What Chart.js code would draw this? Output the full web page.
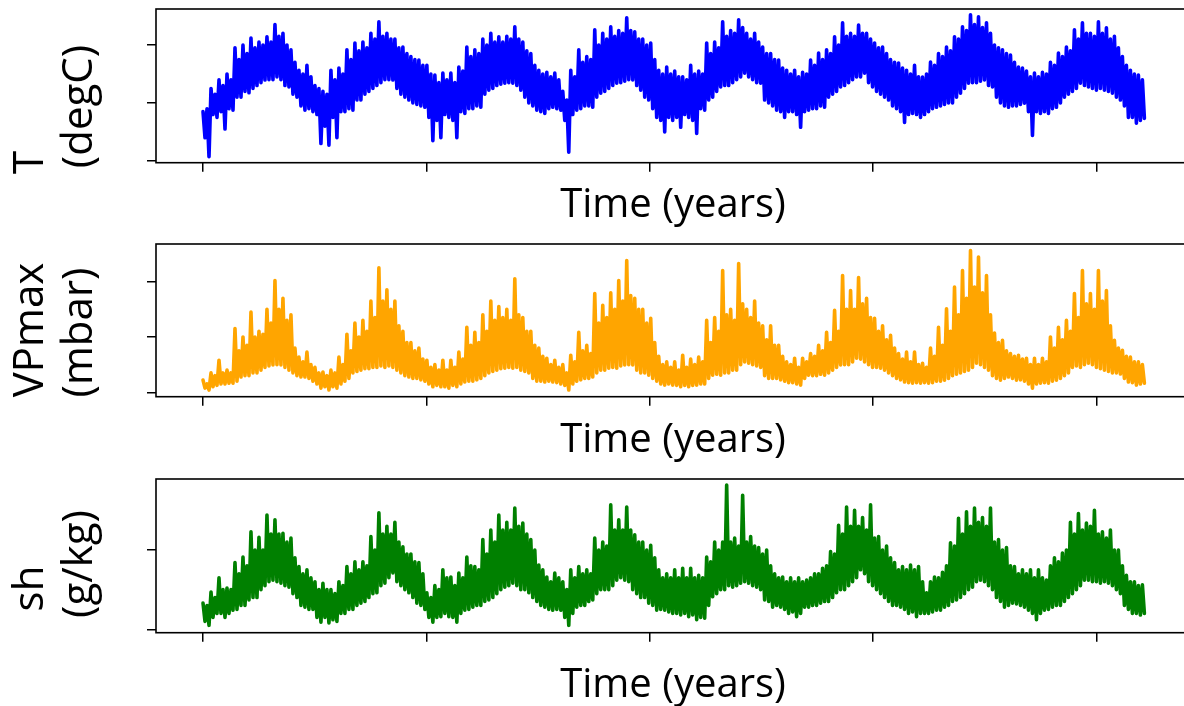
<!DOCTYPE html>
<html>
<head>
<meta charset="utf-8">
<title>Weather time series</title>
<script src="https://cdn.jsdelivr.net/npm/chart.js@4.4.1/dist/chart.umd.min.js"></script>
<style>
  html, body { margin: 0; padding: 0; background: #fff; width: 1184px; height: 706px; overflow: hidden; }
  .panel { position: absolute; left: 0; }
</style>
</head>
<body>
<div class="panel" style="top:0px"><canvas id="chartT" width="1200" height="235"></canvas></div>
<div class="panel" style="top:235px"><canvas id="chartVP" width="1200" height="235"></canvas></div>
<div class="panel" style="top:470px"><canvas id="chartSh" width="1200" height="236"></canvas></div>
<script>
// Values, one every SAMPLE_STEP rows (10-min records).
// Each row of the arrays holds (high, low) pairs of the noisy band.
const SAMPLE_STEP = 895;
const xTickValues = [0, 100000, 200000, 300000, 400000];

const tTicks = [-20, 0, 20];
const vpTicks = [0, 20, 40];
const shTicks = [0, 10];

// T (degC)
const temperature = [
  -3, -12, -2, -18.5, 5, -4, 3, -5, 8, -3, 6, -9, 10, -2, 8, -2.5, 19, 2, 15, 2,
  20, 4, 17, 3.5, 22.4, 5, 19, 6, 21, 7, 20, 7.9, 22.8, 8, 21, 8, 27, 9, 23, 8,
  24, 6, 20, 5.5, 18.3, 3, 14, 2, 11.3, -1, 10, -2.5, 13, -2, 9, -3, 6, -4, 5, -14,
  4, -8, 3, -14.6, 11.3, -5, 8, -12, 12, -3, 10, -3, 18.3, -2, 15, -2.5, 20.7, 1, 18, 1,
  21, 3, 19, 4, 24, 5, 22, 6, 28, 7, 23, 8, 24, 8, 22, 7.9, 22, 5, 19, 3,
  19.3, 2, 17, 1, 16, 0, 15, -0.5, 14.8, -1, 13, -1.5, 13, -5, 10, -13, 9.6, -6, 7, -12,
  10.3, -4, 8, -5, 10.3, -6, 7, -12, 12.4, -3, 11, -3.6, 19.3, -2, 16, -2, 18.3, -1, 17, -1.5,
  22, 3, 20, 4.4, 24, 5, 21, 6, 22.8, 6.5, 21, 6.8, 23, 7, 22, 6.8, 26.3, 6, 22, 4.4,
  21, 2, 18, 0, 17, -1, 13, -2.5, 11.3, -3, 10, -3.6, 10.6, -2, 9, -1.5, 10.3, -2, 8, -2.5,
  4, -6, 1, -17, 11.3, -4, 9, -2.5, 18.3, -2, 14, -1, 16, -1, 15, -1.5, 25.2, 2, 20, 3.4,
  24, 4, 22, 5, 26.3, 6, 23, 6.8, 25, 7, 24, 7.5, 29.4, 8, 25, 7.9, 24.5, 6, 22, 4.4,
  22, 2, 20, 1, 20.7, -2, 15, -5, 11.3, -6, 10, -10, 12.4, -5, 10, -6, 11, -5, 9, -8.4,
  9, -4, 8, -5, 13, -6, 10, -10.5, 11, -2, 10, -2.5, 20.7, 1, 17, 2, 21, 4, 19, 5.5,
  28, 6, 23, 6, 25, 7, 24, 8, 28.7, 9, 26, 10.3, 24, 9, 22, 8, 24, 7, 21, 6.8,
  19.3, 1, 17, 0, 17, -1, 15, -2.5, 14.8, -3, 12, -5, 11.3, -3, 10, -3, 11.3, -4, 9, -8.4,
  10.6, -3, 10, -2.5, 14.8, -2, 13, -2, 17.2, -1, 15, -1.5, 18.3, 2, 17, 3, 22.8, 4, 20, 5.5,
  27.6, 6, 23, 7, 24, 8, 23, 9, 26.9, 9, 24, 10.3, 24, 7, 22, 5.5, 20.7, 4, 19, 3,
  19.3, 2, 17, 1, 15, -1, 14, -2, 13.8, -3, 12, -6.7, 11.3, -4, 10, -3.6, 13, -4, 9, -5,
  8.9, -4, 10, -3, 14.1, -2, 13, -1.5, 17, -1, 16, -0.5, 19.3, 0, 18, 0, 22.8, 2, 22, 3.4,
  26.3, 5, 25, 6.8, 30.4, 7, 27, 7, 29.7, 7.5, 26, 7.9, 27.6, 6, 24, 5.5, 20, 2, 19, 0,
  18.3, -1, 17, -1.5, 16.5, -1, 14, -1, 12.4, -0.5, 12, -0.1, 11, -3, 9, -11.2, 10.3, -3, 9, -3.6,
  10.6, -3, 10, -3.6, 14, -2, 13, -1.5, 17.2, 0, 16, 2, 19.3, 3, 18, 4, 25.2, 5, 22, 6.8,
  27.6, 6, 24, 5.5, 24, 5, 23, 4.4, 28, 5, 24, 4.4, 25.9, 4, 22, 3.4, 23, 2, 19, 1,
  16, -1, 13, -5, 11.3, -5, 10, -7, 9.6, -6, 8, -5.3
];

// VPmax (mbar)
const vpMax = [
  4.4, 1.5, 3, 0.8, 7, 2, 6, 2.5, 11.6, 3, 7, 3, 8, 3.3, 7, 3.3, 23, 4, 15, 5.5,
  20, 6, 17, 6, 29, 7, 20, 7, 22, 8, 21, 9, 30, 9.5, 25, 9.9, 40.4, 10, 30, 9.9,
  34, 9, 26, 8, 28, 7, 16, 6, 12.7, 5.5, 11, 5.5, 14.5, 5, 10, 4, 9, 3, 7, 1.5,
  7.3, 2, 6, 0.8, 8, 2, 7, 1.5, 12.7, 3, 10, 4, 21, 5, 15, 7, 25, 7.5, 20, 8,
  26, 8.5, 22, 8.5, 33, 9, 27, 9, 45, 9.5, 33, 9, 37, 9.5, 30, 9, 33, 8, 24, 7,
  22, 6, 18, 5.5, 18, 5, 15, 5, 16, 4.5, 12, 4, 11.6, 3, 9, 2, 10, 2.5, 8, 2,
  11.6, 2, 8, 1.5, 11.6, 2.5, 9, 2, 14.5, 3, 12, 3.7, 23.5, 4, 17, 4, 21.7, 4.5, 18, 5,
  28, 6, 22, 7, 33, 7.5, 26, 8, 31, 8.5, 27, 8.7, 30, 9, 26, 8.7, 41, 9, 28, 8,
  27, 7.5, 22, 7, 22, 5, 17, 4, 16, 4, 13, 3.7, 12.3, 4, 10, 3.7, 11.6, 3.5, 9, 3,
  10, 2.5, 7, 0.8, 13.4, 3, 11, 4, 21.7, 4.5, 15, 5, 17, 5, 14, 5.5, 35.7, 7, 25, 8,
  31.4, 8, 27, 8.7, 36, 9, 30, 8.7, 40.4, 9.5, 33, 9.9, 47.6, 10, 35, 9.9, 34, 8, 30, 7,
  30, 7, 25, 6.2, 26.7, 5, 18, 4, 13, 3, 10, 2.6, 11, 3, 9, 2.6, 11, 2.5, 8, 2,
  13.4, 2.5, 9, 2, 12, 2.5, 10, 2.6, 12.7, 3, 11, 3, 26, 5, 18, 6.2, 27, 6.5, 22, 6.2,
  44, 7, 28, 7, 30, 8, 26, 8, 46.5, 10, 32, 11, 30, 10.5, 27, 10, 33, 9.5, 25, 9,
  24, 6, 19, 5, 24, 5, 17, 5, 17, 4.5, 13, 4, 11, 3.5, 10, 3.5, 12.3, 3, 9, 2.6,
  12.3, 5, 11, 6.2, 14, 6, 13, 6, 17, 6.5, 15, 6.2, 21.7, 7, 18, 8, 29.6, 9, 22, 9.9,
  42.2, 10, 30, 10, 36.8, 11, 30, 12.3, 41.5, 12, 32, 11, 34, 10, 27, 9, 26.7, 9, 22, 8.7,
  24, 8, 19, 7, 20.6, 6, 16, 5, 14, 4.5, 12, 3.7, 14.5, 3.5, 11, 3.3, 14.5, 3.5, 10, 3.3,
  10.5, 3.5, 9, 3.3, 16, 3.5, 13, 4, 23.5, 4, 17, 4.4, 30.2, 5, 22, 6, 38, 6.5, 28, 7,
  44, 7.5, 34, 8, 51.2, 9, 38, 10.5, 48.9, 10, 36, 9, 42.2, 8, 28, 6, 21.4, 5, 18, 4.4,
  18.8, 5, 15, 5.5, 14, 5, 13, 4.4, 13.4, 4.5, 12, 4, 12.3, 3, 10, 1.5, 12.3, 3, 10, 3.3,
  12.3, 3.5, 11, 3.3, 20, 4, 16, 4.4, 23.5, 5, 19, 6, 26, 7, 22, 9, 35.7, 9.5, 27, 9,
  44, 10, 32, 10.5, 35.7, 10, 30, 9, 44, 8.5, 33, 8, 36.8, 7.5, 24, 7, 18.8, 7, 16, 6.6,
  15.2, 5, 13, 3.7, 12.7, 3.5, 11, 2.6, 11, 3, 10, 3.3
];

// sh (g/kg)
const specificHumidity = [
  3.3, 1, 3, 0.5, 4.7, 1.5, 4, 2, 6.5, 2, 5, 1.5, 5.2, 2, 5, 2.4, 8.4, 2.5, 7, 3,
  9.1, 3, 8, 3.7, 12.3, 4, 10, 4, 11.6, 5, 10, 5.5, 14.4, 6, 12, 6.2, 13.8, 6, 12, 5.8,
  12.1, 5.5, 11, 5.3, 11.5, 4.5, 9, 4, 7.9, 3, 7, 2.8, 7.5, 2.5, 6.5, 2.5, 6, 1.5, 5, 0.9,
  5.8, 1.5, 5, 0.8, 5, 1.2, 4.5, 1, 6, 2, 5.5, 2, 7.9, 2.5, 7, 2.5, 8.5, 3, 7.5, 3.3,
  8.5, 3.5, 8, 4, 11.7, 4.5, 10, 4.6, 14.7, 5.5, 12, 5.8, 13, 6.5, 12, 7.1, 13.5, 6, 11, 5.5,
  10.4, 5, 9.5, 4.6, 9.5, 4, 8.5, 3.3, 8.4, 3, 7, 2.5, 4.6, 1.5, 4, 0.9, 5.5, 1.5, 5, 1.6,
  7.5, 2, 6.5, 1.6, 6.6, 1.5, 5.5, 0.9, 7.1, 2, 6.5, 2.4, 9.1, 2.5, 8, 2.8, 7.9, 3, 7.5, 3,
  11.3, 3.5, 9.5, 3.7, 12.5, 4, 11, 4.5, 14.4, 5, 12.5, 5.3, 13.5, 5.5, 12.5, 5.8, 15.3, 5.5, 13, 5,
  13.4, 5, 12, 4.6, 11.3, 4, 10, 3.5, 8.1, 3, 7.5, 2.8, 6.6, 2.5, 6, 2.4, 7.1, 2.5, 6.5, 2.4,
  6, 1.5, 5, 0.5, 7.5, 2, 6.5, 2.8, 7.9, 3, 7, 3, 7.5, 3.5, 7, 3.7, 11.5, 4.5, 10, 5,
  11, 5, 10.5, 5, 15.7, 5.5, 12.5, 6.2, 13.8, 6.5, 12.5, 6.2, 15.4, 6, 12.5, 5, 11.9, 4.5, 11, 4,
  11, 4, 10, 3.3, 10.6, 3, 9, 2.4, 7.5, 2.5, 6.5, 2.4, 7, 2.2, 6.5, 2, 7.5, 2, 6.5, 1.8,
  7.7, 2, 6.5, 1.6, 7.7, 1.8, 6.5, 1.2, 6.8, 1.5, 6.5, 1.4, 9.1, 3, 8.5, 4.1, 11, 4.5, 10, 5,
  11, 5, 18.2, 5.5, 11, 5.3, 11.5, 5.5, 10.5, 5.8, 16.9, 6, 11, 5.8, 11.7, 5.5, 10.5, 5.3, 10.3, 5,
  9.5, 3.7, 10, 3.5, 8, 2.8, 7, 3, 6.5, 2.8, 6.6, 2.5, 6, 2, 6.5, 2.2, 6, 1.6, 6.5, 2,
  6, 2.8, 6.2, 2.8, 6.5, 3, 7, 3, 7, 3.3, 7.7, 3.5, 8, 3.5, 9.8, 4, 9.5, 4.6, 13.1, 5,
  12, 5, 15.4, 5.5, 13, 6, 15, 6.5, 13, 7.5, 14.1, 7, 12.5, 6, 15.7, 5.5, 11.5, 5, 11.7, 4.5,
  10, 4, 10.5, 3.5, 9, 3, 8.4, 3, 7.5, 2.8, 7.9, 2.5, 7.5, 2, 8.1, 2.2, 7.5, 1.6, 7.9, 2,
  6, 2, 4.6, 2, 6, 2.2, 6.6, 2.4, 6.5, 2.4, 7.2, 2.8, 8, 3, 10.9, 3.5, 10.5, 3.7, 14, 4,
  12, 4.5, 14.8, 5, 13, 5.3, 15.3, 6, 13.5, 6.2, 14.1, 6, 13, 5.5, 15.3, 5, 11, 4, 11.3, 3.5,
  10, 2.8, 10.3, 3, 8, 3.3, 7.9, 3.2, 7, 3, 7.5, 2.8, 7, 2.4, 7.5, 2, 6.5, 1.2, 7.5, 2,
  6.5, 2.4, 6.2, 2.5, 8, 2.8, 9, 3, 8.5, 3, 9.6, 3.5, 10, 4, 13.5, 4.5, 12, 5, 14.6, 5.5,
  12.5, 6.2, 13.4, 6.2, 13, 6, 15, 6, 12, 5.8, 12.3, 6, 11.5, 5.8, 12.5, 5.5, 10, 5, 10, 4.5,
  8, 3, 6.8, 2.5, 6, 2, 6, 2, 5.5, 1.8, 5.6, 2
];

Chart.defaults.font.family = "'Open Sans', 'Noto Sans', sans-serif";
Chart.defaults.color = '#000';

// Black box around the plotting area (matplotlib spines)
const framePlugin = {
  id: 'frame',
  afterDatasetsDraw(chart) {
    const { ctx, chartArea: a } = chart;
    ctx.save();
    ctx.strokeStyle = '#000';
    ctx.lineWidth = 1.6;
    ctx.strokeRect(a.left, a.top, a.right - a.left, a.bottom - a.top);
    ctx.restore();
  }
};

// Two-line rotated y label, drawn to the left of the axis
const yLabelPlugin = {
  id: 'yLabel',
  afterDraw(chart, args, opts) {
    const ctx = chart.ctx;
    ctx.save();
    ctx.fillStyle = '#000';
    ctx.font = opts.size + "px 'Open Sans', 'Noto Sans', sans-serif";
    ctx.textAlign = 'center';
    ctx.textBaseline = 'alphabetic';
    opts.lines.forEach(line => {
      ctx.save();
      ctx.translate(line.x, line.y);
      ctx.rotate(-Math.PI / 2);
      ctx.fillText(line.text, 0, 0);
      ctx.restore();
    });
    ctx.restore();
  }
};

function toPoints(values) {
  return values.map((v, i) => ({ x: i * SAMPLE_STEP, y: v }));
}

function makePanel(canvasId, values, color, yTicks, yMin, yMax, plotBottom, titlePad, labelLines) {
  const canvas = document.getElementById(canvasId);
  const tickGrid = {
    drawOnChartArea: false,
    color: '#000',
    lineWidth: 1.5,
    tickLength: 9
  };
  return new Chart(canvas, {
    type: 'line',
    data: {
      datasets: [{
        data: toPoints(values),
        borderColor: color,
        borderWidth: 3.6,
        borderJoinStyle: 'round',
        borderCapStyle: 'round',
        pointRadius: 0,
        tension: 0,
        fill: false
      }]
    },
    options: {
      responsive: false,
      animation: false,
      layout: { padding: { top: 9, right: 10, left: 0, bottom: 0 } },
      plugins: {
        legend: { display: false },
        tooltip: { enabled: false },
        yLabel: { size: 42, lines: labelLines }
      },
      scales: {
        x: {
          type: 'linear',
          min: -21050,
          max: 441970,
          grid: tickGrid,
          border: { display: false },
          ticks: { display: false },
          afterBuildTicks: s => { s.ticks = xTickValues.map(v => ({ value: v })); },
          afterFit: s => { s.height = canvas.height - plotBottom; },
          title: {
            display: true,
            text: 'Time (years)',
            color: '#000',
            font: { size: 40, lineHeight: 1 },
            padding: { top: 0, bottom: titlePad }
          }
        },
        y: {
          min: yMin,
          max: yMax,
          grid: tickGrid,
          border: { display: false },
          ticks: { display: false },
          afterBuildTicks: s => { s.ticks = yTicks.map(v => ({ value: v })); },
          afterFit: s => { s.width = 156; }
        }
      }
    },
    plugins: [framePlugin, yLabelPlugin]
  });
}

makePanel('chartT', temperature, '#0000ff', tTicks, -20.6, 32.4, 162.7, 9,
  [{ text: 'T', x: 43, y: 162.5 }, { text: '(degC)', x: 92, y: 106.5 }]);
makePanel('chartVP', vpMax, '#ffa500', vpTicks, -1.6, 53.6, 161.7, 9,
  [{ text: 'VPmax', x: 43, y: 95 }, { text: '(mbar)', x: 92, y: 97.5 }]);
makePanel('chartSh', specificHumidity, '#008000', shTicks, -0.43, 18.95, 162.7, 0,
  [{ text: 'sh', x: 43, y: 118.5 }, { text: '(g/kg)', x: 92, y: 94 }]);
</script>
</body>
</html>
